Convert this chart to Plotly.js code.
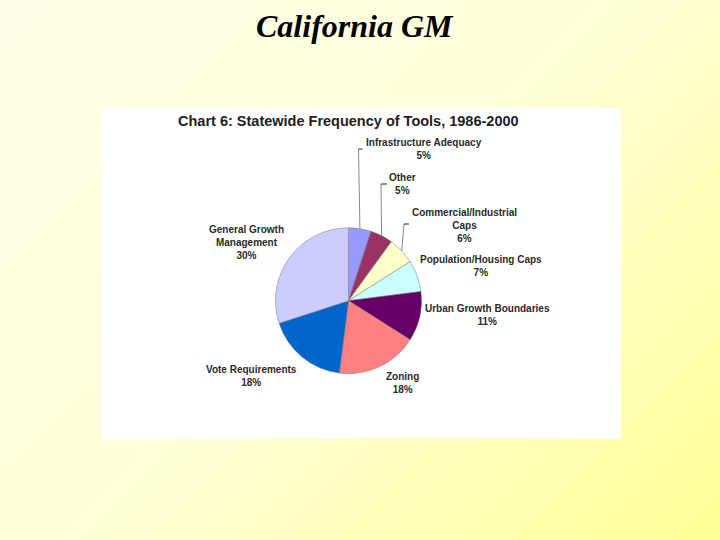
<!DOCTYPE html>
<html>
<head>
<meta charset="utf-8">
<script src="https://cdn.plot.ly/plotly-3.0.1.min.js"></script>
<style>
  html, body { margin: 0; padding: 0; }
  body {
    width: 720px; height: 540px; overflow: hidden;
    background: linear-gradient(135deg, #FFFFE8 0%, #FFFFDC 45%, #FFFFB8 75%, #FFFF96 100%);
  }
  #chart { width: 720px; height: 540px; }
</style>
</head>
<body>
<div id="chart"></div>
<script>
// ---- data ----
const categories = [
  "Infrastructure Adequacy",
  "Other",
  "Commercial/Industrial Caps",
  "Population/Housing Caps",
  "Urban Growth Boundaries",
  "Zoning",
  "Vote Requirements",
  "General Growth Management"
];
const values = [5, 5, 6, 7, 11, 18, 18, 30];
const colors = ["#9999FF", "#993366", "#FFFFCC", "#CCFFFF", "#660066", "#FF8080", "#0066CC", "#CCCCFF"];
const labelLines = [
  "Infrastructure Adequacy",
  "Other",
  "Commercial/Industrial<br>Caps",
  "Population/Housing Caps",
  "Urban Growth Boundaries",
  "Zoning",
  "Vote Requirements",
  "General Growth<br>Management"
];

// ---- layout helpers (pixel -> paper) ----
const W = 720, H = 540;
const px = x => x / W;
const py = y => 1 - y / H;
const cx = 348.5, cy = 300.7, R = 73;

const total = values.reduce((a, b) => a + b, 0);
const pct = values.map(v => Math.round(v / total * 100) + "%");

// label centres (pixels)
const labelPos = [
  [424, 149], [402, 183.5], [464, 225], [481, 266],
  [487, 315], [402, 382.5], [251, 376], [246, 242.5]
];

const annotations = [];
categories.forEach((c, i) => {
  annotations.push({
    xref: "paper", yref: "paper",
    x: px(labelPos[i][0]), y: py(labelPos[i][1]),
    xanchor: "center", yanchor: "middle",
    text: labelLines[i] + "<br>" + pct[i],
    showarrow: false, align: "center",
    font: { family: "Liberation Sans", size: 10, color: "#2a2a2a", weight: "bold" }
  });
});
annotations.push({
  xref: "paper", yref: "paper", x: px(348.5), y: py(121.5),
  xanchor: "center", yanchor: "middle", showarrow: false,
  text: "<b>Chart 6: Statewide Frequency of Tools, 1986-2000</b>",
  font: { family: "Liberation Sans", size: 14.5, color: "#222" }
});
annotations.push({
  xref: "paper", yref: "paper", x: px(355), y: py(26),
  xanchor: "center", yanchor: "middle", showarrow: false,
  text: "<b><i>California GM</i></b>",
  font: { family: "Liberation Serif", size: 32, color: "#000" }
});

// leader lines from slice mid-angle edge points
function edgePoint(i) {
  let cum = 0;
  for (let k = 0; k < i; k++) cum += values[k];
  const a = (cum + values[i] / 2) / total * 2 * Math.PI;
  return [cx + R * Math.sin(a), cy - R * Math.cos(a)];
}
const leaderEnds = { 0: [[358.5, 149], [362.5, 149]], 1: [[381, 184], [387, 184]], 2: [[404, 224], [409, 224]] };
const shapes = [{
  type: "rect", xref: "paper", yref: "paper",
  x0: px(101.5), x1: px(621), y0: py(439), y1: py(108),
  fillcolor: "#FFFFFF", line: { width: 0 }, layer: "below"
}];
Object.keys(leaderEnds).forEach(k => {
  const i = +k;
  const s = edgePoint(i);
  const [m, e] = leaderEnds[k];
  shapes.push({ type: "line", xref: "paper", yref: "paper",
    x0: px(s[0]), y0: py(s[1]), x1: px(m[0]), y1: py(m[1]),
    line: { color: "#888", width: 1 } });
  shapes.push({ type: "line", xref: "paper", yref: "paper",
    x0: px(m[0]), y0: py(m[1]), x1: px(e[0]), y1: py(e[1]),
    line: { color: "#222", width: 1 } });
});

const trace = {
  type: "pie",
  labels: categories,
  values: values,
  sort: false,
  direction: "clockwise",
  rotation: 0,
  textinfo: "none",
  hoverinfo: "label+percent",
  marker: { colors: colors, line: { color: "#777", width: 0.5 } },
  domain: { x: [px(cx - R), px(cx + R)], y: [py(cy + R), py(cy - R)] },
  showlegend: false
};

const layout = {
  width: W, height: H,
  margin: { l: 0, r: 0, t: 0, b: 0 },
  paper_bgcolor: "rgba(0,0,0,0)",
  plot_bgcolor: "rgba(0,0,0,0)",
  showlegend: false,
  annotations: annotations,
  shapes: shapes
};

Plotly.newPlot("chart", [trace], layout, { staticPlot: true, displayModeBar: false });
</script>
</body>
</html>
